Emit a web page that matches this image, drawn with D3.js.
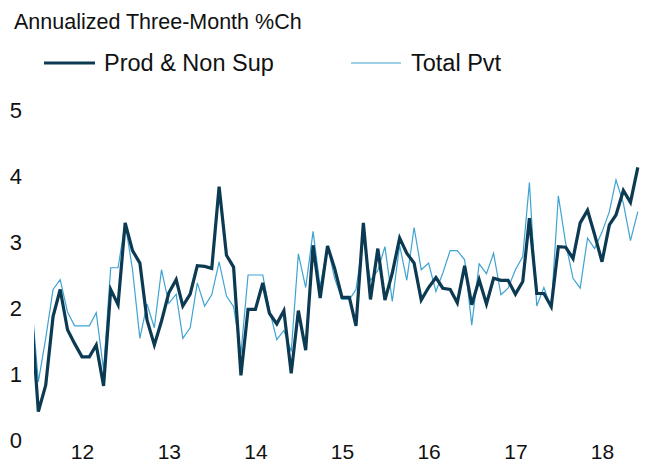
<!DOCTYPE html>
<html><head><meta charset="utf-8">
<script src="https://cdn.jsdelivr.net/npm/d3@7/dist/d3.min.js"></script>
<style>
html,body{margin:0;padding:0;background:#fff;}
svg{display:block;}
text{font-family:"Liberation Sans",Arial,sans-serif;fill:#111;}
</style></head>
<body><svg id="c" width="646" height="465"></svg>
<script>
const startMonth = new Date(2011, 5, 1); // Jun 2011
const prodNonSup = [1.94,0.43,0.83,1.87,2.28,1.67,1.46,1.26,1.26,1.44,0.82,2.28,2.05,3.29,2.87,2.68,1.82,1.44,1.80,2.23,2.43,2.03,2.21,2.64,2.63,2.60,3.84,2.80,2.62,0.98,1.98,1.98,2.38,1.92,1.76,1.96,1.01,1.96,1.36,2.95,2.15,2.94,2.60,2.16,2.16,1.73,3.29,2.13,2.90,2.12,2.53,3.06,2.83,2.68,2.12,2.31,2.46,2.30,2.28,2.08,2.64,2.05,2.43,2.06,2.45,2.42,2.42,2.21,2.40,3.36,2.22,2.22,2.02,2.93,2.92,2.75,3.29,3.48,3.11,2.70,3.26,3.41,3.78,3.60,4.13];
const totalPvt = [2.16,0.88,1.54,2.28,2.43,1.94,1.73,1.73,1.73,1.93,1.06,2.61,2.61,3.29,2.58,1.54,2.06,1.70,2.58,2.07,2.21,1.54,1.70,2.38,2.03,2.20,2.70,2.18,2.02,1.31,2.50,2.50,2.50,1.97,1.52,1.66,1.34,2.82,2.31,3.16,2.32,2.94,2.45,2.13,2.13,2.28,3.06,2.42,2.57,2.93,2.10,2.95,2.42,3.22,2.58,2.68,2.25,2.53,2.87,2.87,2.73,1.74,2.67,2.52,2.83,2.20,2.30,2.58,2.78,3.90,2.03,2.31,2.00,3.70,2.98,2.45,2.30,3.06,2.90,3.15,3.46,3.94,3.59,3.02,3.46];
const yTicks = [0,1,2,3,4,5];
const xTickYears = [2012,2013,2014,2015,2016,2017,2018];
const xTickLabels = ["12","13","14","15","16","17","18"];
const seriesNames = ["Prod & Non Sup","Total Pvt"];

const dates = prodNonSup.map((_, i) => d3.timeMonth.offset(startMonth, i));
const svg = d3.select("#c");
const x = d3.scaleTime().domain([new Date(2012,0,1), new Date(2018,0,1)]).range([82, 602]);
const y = d3.scaleLinear().domain([0,5]).range([440,110]);

svg.append("defs").append("clipPath").attr("id","clip")
  .append("rect").attr("x",34).attr("y",0).attr("width",612).attr("height",465);

// subtitle
svg.append("text").attr("x",14).attr("y",29).attr("font-size",21.5).text("Annualized Three-Month %Ch");

// legend
const lg = svg.append("g");
lg.append("line").attr("x1",44).attr("x2",95).attr("y1",63).attr("y2",63)
  .attr("stroke","#0b3a52").attr("stroke-width",3.2);
lg.append("text").attr("x",104).attr("y",71).attr("font-size",23.5).text(seriesNames[0]);
lg.append("line").attr("x1",351).attr("x2",401).attr("y1",63).attr("y2",63)
  .attr("stroke","#3fa3d2").attr("stroke-width",1.2);
lg.append("text").attr("x",411).attr("y",71).attr("font-size",23.5).text(seriesNames[1]);

// y axis labels
const yAxis = d3.axisLeft(y).tickValues(yTicks).tickSize(0).tickPadding(0).tickFormat(d3.format("d"));
const ya = svg.append("g").attr("transform","translate(22,0)").call(yAxis);
ya.select(".domain").remove();
ya.selectAll("text").attr("font-size",22).attr("fill","#111").attr("font-family","Liberation Sans, Arial, sans-serif");

// x axis labels
const xAxis = d3.axisBottom(x).tickValues(xTickYears.map(yy => new Date(yy,0,1))).tickSize(0).tickPadding(0)
  .tickFormat((d,i) => xTickLabels[i]);
const xa = svg.append("g").attr("transform","translate(0,444)").call(xAxis);
xa.select(".domain").remove();
xa.selectAll("text").attr("font-size",21).attr("fill","#111").attr("font-family","Liberation Sans, Arial, sans-serif");

// lines
const line = d3.line().x((d,i) => x(dates[i])).y(d => y(d));
const g = svg.append("g").attr("clip-path","url(#clip)");
g.append("path").datum(totalPvt).attr("d",line).attr("fill","none")
  .attr("stroke","#3fa3d2").attr("stroke-width",1.2).attr("stroke-linejoin","miter");
g.append("path").datum(prodNonSup).attr("d",line).attr("fill","none")
  .attr("stroke","#0b3a52").attr("stroke-width",3.2).attr("stroke-linejoin","miter");
</script></body></html>
